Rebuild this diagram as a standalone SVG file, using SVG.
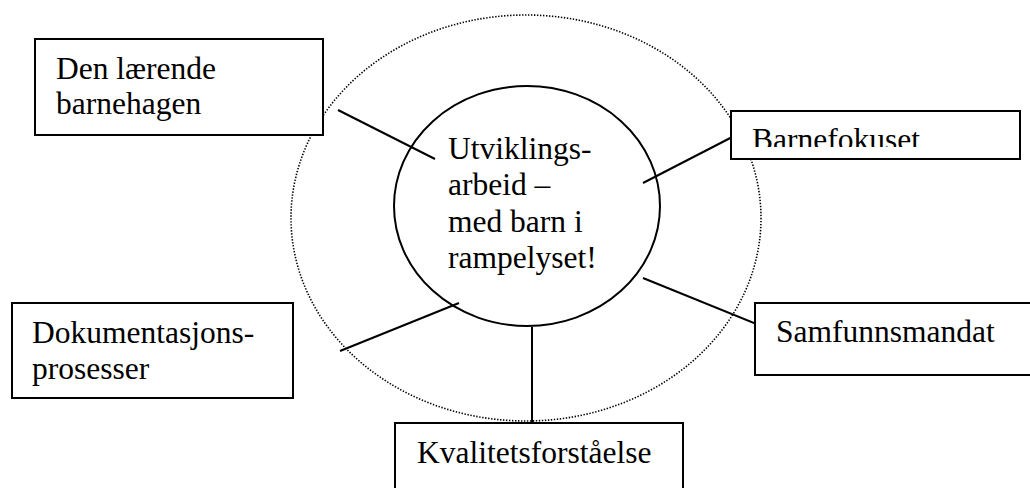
<svg xmlns="http://www.w3.org/2000/svg" width="1030" height="488" viewBox="0 0 1030 488">
<style>
.box{fill:#fff;stroke:#000;stroke-width:2}
.lbl{font-family:"Liberation Serif","Times New Roman",serif;font-size:31.5px;fill:#000}
.ln{stroke:#000;stroke-width:2;fill:none}
</style>
<defs>
<clipPath id="clipB"><rect x="731" y="111" width="290" height="36"/></clipPath>
</defs>
<rect width="1030" height="488" fill="#fff"/>
<ellipse id="outer" cx="526" cy="218" rx="235" ry="203" fill="none" stroke="#000" stroke-width="1.6" stroke-dasharray="1.4 1.6"/>
<g id="connectors">
<line class="ln" x1="338" y1="110" x2="435" y2="159"/>
<line class="ln" x1="643" y1="183" x2="740" y2="133"/>
<line class="ln" x1="459" y1="303" x2="340" y2="351"/>
<line class="ln" x1="643" y1="278" x2="764" y2="327"/>
<line class="ln" x1="532" y1="327" x2="532" y2="423"/>
</g>
<g id="center">
<ellipse cx="527" cy="206" rx="133" ry="120" fill="none" stroke="#000" stroke-width="2"/>
<text class="lbl" x="448" y="159">Utviklings-</text>
<text class="lbl" x="448" y="195">arbeid –</text>
<text class="lbl" x="448" y="232">med barn i</text>
<text class="lbl" x="448" y="268">rampelyset!</text>
</g>
<g id="den-laerende">
<rect class="box" x="35" y="39" width="288" height="96"/>
<text class="lbl" x="56" y="79">Den lærende</text>
<text class="lbl" x="56" y="114">barnehagen</text>
</g>
<g id="barnefokuset">
<rect class="box" x="731" y="111" width="289" height="48"/>
<text class="lbl" x="752" y="150" clip-path="url(#clipB)">Barnefokuset</text>
</g>
<g id="dokumentasjon">
<rect class="box" x="12" y="303" width="281" height="95"/>
<text class="lbl" x="32" y="343">Dokumentasjons-</text>
<text class="lbl" x="32" y="379">prosesser</text>
</g>
<g id="samfunnsmandat">
<rect class="box" x="755" y="303" width="290" height="72"/>
<text class="lbl" x="776" y="342">Samfunnsmandat</text>
</g>
<g id="kvalitet">
<rect class="box" x="395" y="423" width="288" height="80"/>
<text class="lbl" x="417" y="463">Kvalitetsforståelse</text>
</g>
</svg>
